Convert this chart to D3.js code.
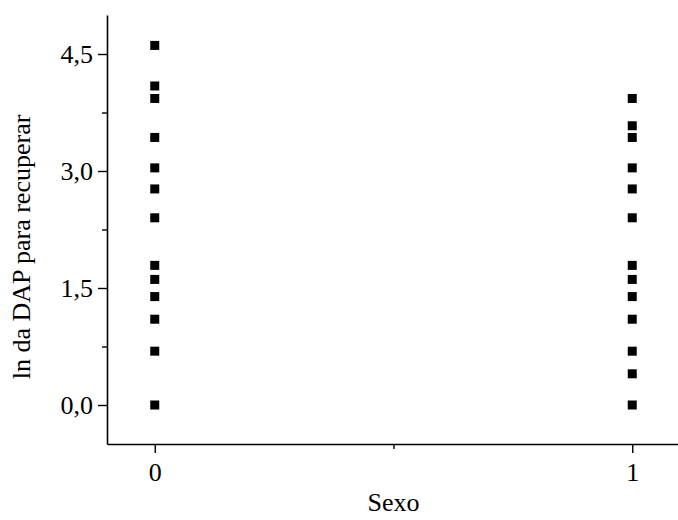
<!DOCTYPE html>
<html>
<head>
<meta charset="utf-8">
<script src="https://cdn.jsdelivr.net/npm/d3@7"></script>
<style>
  html, body { margin: 0; padding: 0; background: #fff; }
  svg { display: block; }
  text { font-family: "Liberation Serif", "Times New Roman", serif; fill: #000; }
</style>
</head>
<body>
<svg id="chart" width="678" height="520"></svg>
<script>
// ln(DAP) values grouped by sex (0 / 1)
const sexo0 = [4.61, 4.09, 3.93, 3.43, 3.04, 2.77, 2.40, 1.79, 1.61, 1.39, 1.10, 0.69, 0.00];
const sexo1 = [3.93, 3.58, 3.43, 3.04, 2.77, 2.40, 1.79, 1.61, 1.39, 1.10, 0.69, 0.40, 0.00];
const xTicks = [0, 1];
const xMinorTicks = [0.5];
const yTicks = [0, 1.5, 3.0, 4.5];
const yMinorTicks = [0.75, 2.25, 3.75];

const points = [
  ...sexo0.map(v => ({ x: 0, y: v })),
  ...sexo1.map(v => ({ x: 1, y: v }))
];

const svg = d3.select("#chart");
const m = { left: 107, right: 680, top: 15, bottom: 444 };
const fontSize = "26px";

const x = d3.scaleLinear().domain([-0.1, 1.1]).range([m.left, m.right]);
const y = d3.scaleLinear().domain([-0.5, 5.0]).range([m.bottom, m.top]);

const fmt = d => d3.format(".1f")(d).replace(".", ",");

// x axis
const gx = svg.append("g").attr("transform", `translate(0,${m.bottom})`);
gx.call(d3.axisBottom(x).tickValues(xTicks).tickSize(9).tickFormat(d3.format("d")).tickSizeOuter(0));
gx.selectAll(".tick text").attr("y", 37).attr("dy", 0);
gx.append("g").call(d3.axisBottom(x).tickValues(xMinorTicks).tickSize(5).tickFormat("").tickSizeOuter(0))
  .select(".domain").remove();

// y axis
const gy = svg.append("g").attr("transform", `translate(${m.left},0)`);
gy.call(d3.axisLeft(y).tickValues(yTicks).tickSize(9).tickPadding(5).tickFormat(fmt).tickSizeOuter(0));
gy.append("g").call(d3.axisLeft(y).tickValues(yMinorTicks).tickSize(5).tickFormat("").tickSizeOuter(0))
  .select(".domain").remove();

svg.selectAll(".domain").attr("stroke", "#000").attr("stroke-width", 1.6);
svg.selectAll(".tick line").attr("stroke", "#000").attr("stroke-width", 1.4);
svg.selectAll(".tick text").style("font-size", fontSize).attr("fill", "#000")
  .style("font-family", '"Liberation Serif", serif');

// markers
const s = 9;
svg.append("g").selectAll("rect").data(points).join("rect")
  .attr("x", d => x(d.x) - s / 2)
  .attr("y", d => y(d.y) - s / 2)
  .attr("width", s).attr("height", s)
  .attr("fill", "#000");

// axis titles
svg.append("text")
  .attr("x", (m.left + m.right) / 2).attr("y", 511)
  .attr("text-anchor", "middle").style("font-size", fontSize)
  .text("Sexo");

svg.append("text")
  .attr("transform", `translate(30,247) rotate(-90)`)
  .attr("text-anchor", "middle").style("font-size", fontSize)
  .text("ln da DAP para recuperar");
</script>
</body>
</html>
